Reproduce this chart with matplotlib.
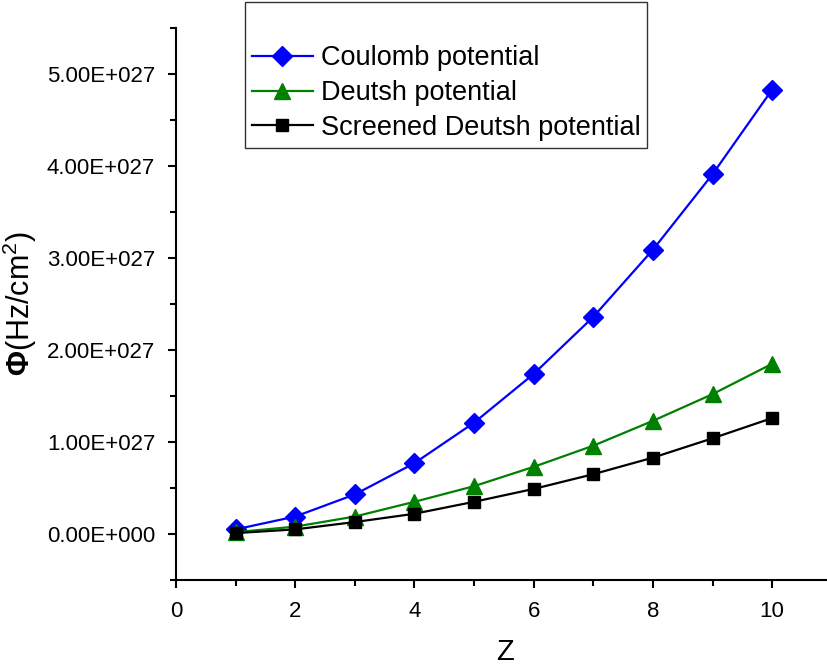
import matplotlib
matplotlib.use("Agg")
import matplotlib.pyplot as plt
import numpy as np
from matplotlib.ticker import MultipleLocator, FuncFormatter

plt.rcParams['font.family'] = ['Liberation Sans', 'DejaVu Sans']
plt.rcParams['mathtext.fontset'] = 'custom'
plt.rcParams['mathtext.rm'] = 'Liberation Sans'
plt.rcParams['mathtext.bf'] = 'Liberation Sans:bold'

z = [1, 2, 3, 4, 5, 6, 7, 8, 9, 10]
coulomb = [0.05e27, 0.19e27, 0.43e27, 0.77e27, 1.21e27, 1.74e27, 2.36e27, 3.09e27, 3.91e27, 4.83e27]
deutsh = [0.02e27, 0.08e27, 0.19e27, 0.35e27, 0.52e27, 0.73e27, 0.96e27, 1.23e27, 1.52e27, 1.85e27]
screened = [0.01e27, 0.05e27, 0.13e27, 0.22e27, 0.35e27, 0.49e27, 0.65e27, 0.83e27, 1.04e27, 1.26e27]
labels = ["Coulomb potential", "Deutsh potential", "Screened Deutsh potential"]


def origin_sci(v, pos):
    if v == 0:
        return "0.00E+000"
    exp = int(np.floor(np.log10(abs(v))))
    return f"{v / 10**exp:.2f}E{exp:+04d}"


fig = plt.figure(figsize=(8.27, 6.69), dpi=100)
ax = fig.add_axes([176 / 827, 1 - 580 / 669, 1 - 176 / 827, 552 / 669])

ax.plot(z, coulomb, '-D', color='#0000ff', lw=1.6, ms=10, label=labels[0])
ax.plot(z, deutsh, '-^', color='#008000', lw=1.6, ms=11, label=labels[1])
ax.plot(z, screened, '-s', color='black', lw=1.6, ms=8.5, label=labels[2])

ax.set_xlim(0, 10.92)
ax.set_ylim(-0.5e27, 5.5e27)
ax.xaxis.set_major_locator(MultipleLocator(2))
ax.xaxis.set_minor_locator(MultipleLocator(1))
ax.yaxis.set_major_locator(MultipleLocator(1e27))
ax.yaxis.set_minor_locator(MultipleLocator(0.5e27))
ax.yaxis.set_major_formatter(FuncFormatter(origin_sci))

for side in ['top', 'right']:
    ax.spines[side].set_visible(False)
for side in ['left', 'bottom']:
    ax.spines[side].set_linewidth(1.5)
ax.tick_params(which='major', direction='out', length=6, width=1.5, labelsize=16)
ax.tick_params(axis='y', which='major', pad=9)
ax.tick_params(axis='x', which='major', pad=9)
ax.tick_params(which='minor', direction='out', length=4, width=1.5)

ax.set_xlabel("Z", fontsize=21)
ax.xaxis.set_label_coords(0.505, -0.105)
ax.set_ylabel(r"$\mathbf{\Phi}$(Hz/cm$^{2}$)", fontsize=22)
ax.yaxis.set_label_coords(-0.21, 0.5)

leg = ax.legend(loc='upper left', bbox_to_anchor=(245 / 827, 1 - 2 / 669),
                bbox_transform=fig.transFigure, fontsize=19.5, title=" ",
                title_fontsize=21, frameon=True, fancybox=False, framealpha=1,
                edgecolor='#333333', borderpad=0.25, borderaxespad=0,
                labelspacing=0.32, handlelength=2.25, handletextpad=0.3)
leg.get_frame().set_linewidth(1.0)

plt.savefig("out.png", dpi=100)
